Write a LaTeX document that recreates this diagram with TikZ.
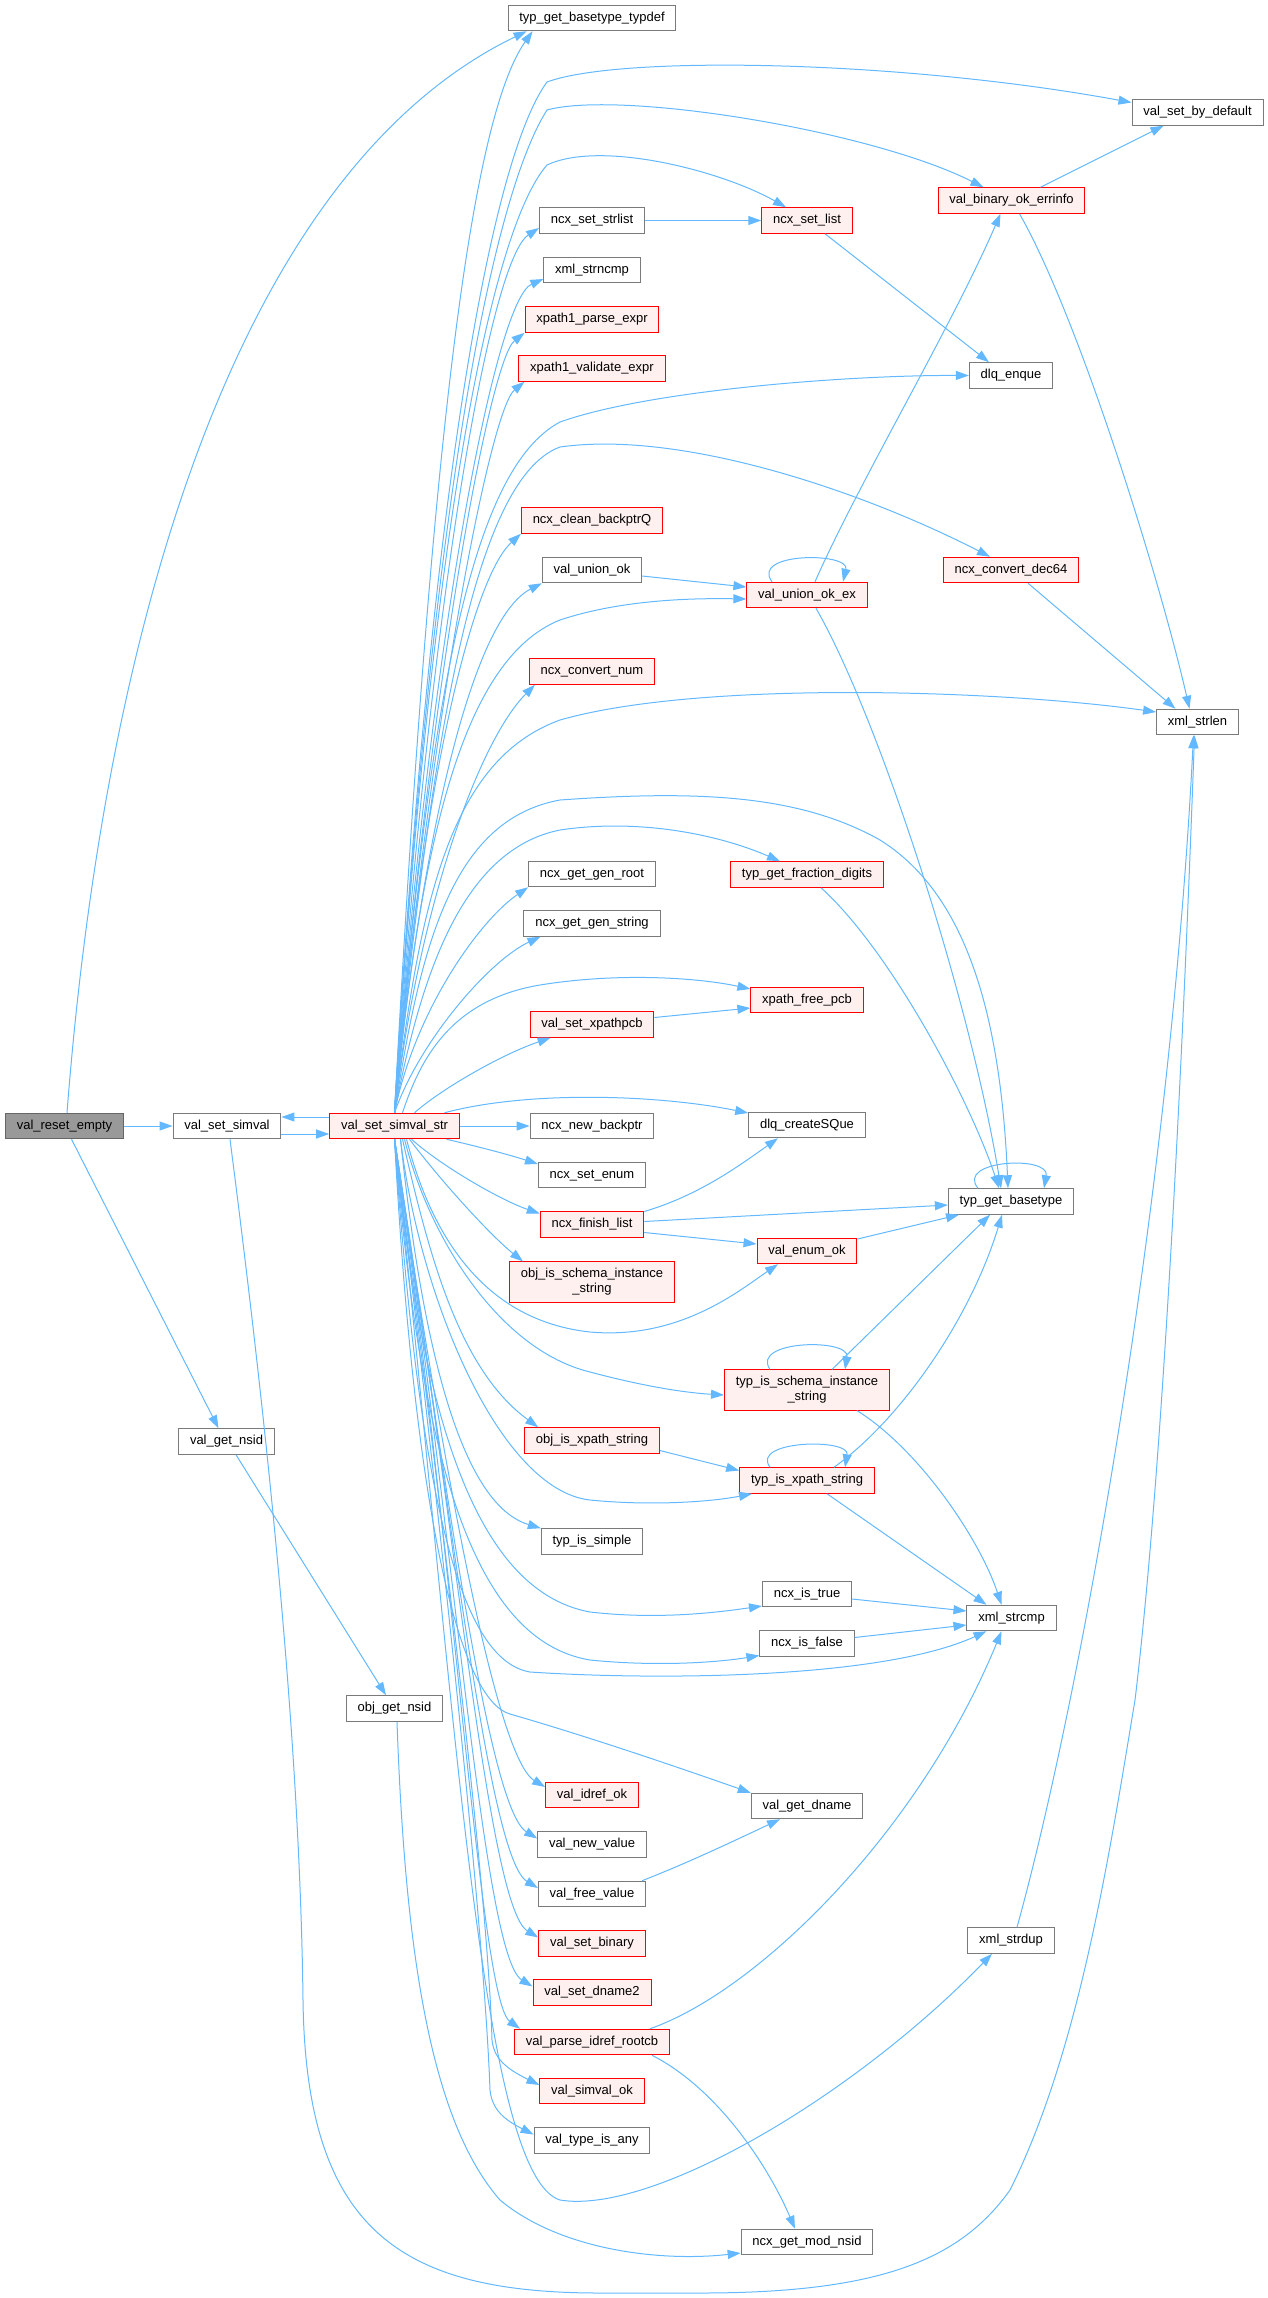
\documentclass[tikz,border=0pt]{standalone}
\usepackage{fontspec}
\setmainfont{Liberation Sans}
\usetikzlibrary{arrows.meta}
\definecolor{edgeblue}{HTML}{63B8FF}
\definecolor{boxgray}{HTML}{7A7A7A}
\definecolor{redfill}{HTML}{FFF0F0}
\definecolor{rootfill}{HTML}{999999}
\definecolor{rootdraw}{HTML}{666666}
\newcommand{\fnfont}{\fontsize{13pt}{15pt}\selectfont}

\begin{document}
\begin{tikzpicture}[
		% pixel grid of the call graph, y grows downward
		x=1pt, y=-1pt,
		fnbase/.style={draw=boxgray, fill=white, line width=1pt, inner xsep=11.3pt, inner ysep=6.5pt, font=\fnfont},
		fn/.style={fnbase, text height=9.5pt, text depth=3pt},
		fnred/.style={fn, draw=red, fill=redfill},
		fnroot/.style={fn, draw=rootdraw, fill=rootfill},
		fnredtwo/.style={fnbase, draw=red, fill=redfill, align=center},
		call/.style={draw=edgeblue, line width=1pt, -{Triangle[length=13pt,width=9pt]}}
		]
		\useasboundingbox (0,0) rectangle (1268,2298);

		% callers
		\node[fnroot] (vre) at (64.5,1126) {val\_reset\_empty};
		\node[fn] (vss) at (227,1126) {val\_set\_simval};
		\node[fn] (vgn) at (226.5,1441.5) {val\_get\_nsid};
		\node[fnred] (vsvs) at (394.5,1126) {val\_set\_simval\_str};
		\node[fn] (ogn) at (394.5,1708.5) {obj\_get\_nsid};

		% third column
		\node[fn] (tgbt) at (592,18) {typ\_get\_basetype\_typdef};
		\node[fn] (nss) at (592,220.5) {ncx\_set\_strlist};
		\node[fn] (xsncmp) at (592,270) {xml\_strncmp};
		\node[fnred] (xpe) at (592,319.5) {xpath1\_parse\_expr};
		\node[fnred] (xve) at (592,368.5) {xpath1\_validate\_expr};
		\node[fnred] (ncb) at (592,520.5) {ncx\_clean\_backptrQ};
		\node[fn] (vuo) at (592,570) {val\_union\_ok};
		\node[fnred] (ncn) at (592,671.5) {ncx\_convert\_num};
		\node[fn] (nggr) at (592,874) {ncx\_get\_gen\_root};
		\node[fn] (nggs) at (592,923.5) {ncx\_get\_gen\_string};
		\node[fnred] (vsxp) at (592,1024.5) {val\_set\_xpathpcb};
		\node[fn] (nnb) at (592,1126) {ncx\_new\_backptr};
		\node[fn] (nse) at (592,1175) {ncx\_set\_enum};
		\node[fnred] (nfl) at (592,1224.5) {ncx\_finish\_list};
		\node[fnredtwo] (oisis) at (592,1282) {obj\_is\_schema\_instance\\\_string};
		\node[fnred] (oixs) at (592,1440.5) {obj\_is\_xpath\_string};
		\node[fn] (tis) at (592,1541.5) {typ\_is\_simple};
		\node[fnred] (vio) at (592,1795) {val\_idref\_ok};
		\node[fn] (vnv) at (592,1844.5) {val\_new\_value};
		\node[fn] (vfv) at (592,1894) {val\_free\_value};
		\node[fnred] (vsb) at (592,1943.5) {val\_set\_binary};
		\node[fnred] (vsd) at (592,1992.5) {val\_set\_dname2};
		\node[fnred] (vpir) at (592,2042) {val\_parse\_idref\_rootcb};
		\node[fnred] (vso) at (592,2091) {val\_simval\_ok};
		\node[fn] (vtia) at (592,2140.5) {val\_type\_is\_any};

		% fourth column
		\node[fnred] (nsl) at (807,220.5) {ncx\_set\_list};
		\node[fnred] (vuoe) at (807,595) {val\_union\_ok\_ex};
		\node[fnred] (tgfd) at (807,874.5) {typ\_get\_fraction\_digits};
		\node[fnred] (xfp) at (807,1000) {xpath\_free\_pcb};
		\node[fn] (dcs) at (807,1125) {dlq\_createSQue};
		\node[fnred] (veo) at (807,1251) {val\_enum\_ok};
		\node[fnredtwo] (tiss) at (807,1390) {typ\_is\_schema\_instance\\\_string};
		\node[fnred] (tixs) at (807,1480.5) {typ\_is\_xpath\_string};
		\node[fn] (nit) at (807,1594) {ncx\_is\_true};
		\node[fn] (nif) at (807,1643.5) {ncx\_is\_false};
		\node[fn] (vgd) at (807,1806) {val\_get\_dname};
		\node[fn] (ngmn) at (807,2242) {ncx\_get\_mod\_nsid};

		% fifth and sixth column
		\node[fnred] (vboe) at (1011.5,200.5) {val\_binary\_ok\_errinfo};
		\node[fn] (dle) at (1011,375.5) {dlq\_enque};
		\node[fnred] (ncd) at (1011,570) {ncx\_convert\_dec64};
		\node[fn] (tgb) at (1011,1201.5) {typ\_get\_basetype};
		\node[fn] (xscmp) at (1011.5,1618) {xml\_strcmp};
		\node[fn] (xsd) at (1011,1940.5) {xml\_strdup};
		\node[fn] (vsbd) at (1197.5,112.5) {val\_set\_by\_default};
		\node[fn] (xsl) at (1197.5,722) {xml\_strlen};

		% calls of the root and of val_set_simval
		\draw[call] (vre) -- (vss);
		\draw[call] ([xshift=2.5pt]vre.north) .. controls (105,620) and (240,170) .. ([xshift=19pt]tgbt.south west);
		\draw[call] ([xshift=7pt]vre.south) -- ([xshift=-8pt]vgn.north);
		\draw[call] ([yshift=-8pt]vss.east) -- ([yshift=-8pt]vsvs.west);
		\draw[call] ([yshift=9pt]vsvs.west) -- ([yshift=9pt]vss.east);
		\draw[call] ([xshift=3pt]vss.south) .. controls (270,1450) and (300,1750) .. (303,2000) .. controls (306,2230) and (400,2293) .. (600,2293) -- (700,2293) .. controls (880,2293) and (960,2260) .. (1010,2190) .. controls (1080,2050) and (1110,1850) .. (1135,1700) .. controls (1165,1450) and (1185,1000) .. ([xshift=-3pt]xsl.south);
		\draw[call] ([xshift=9.5pt]vgn.south) -- ([xshift=-8.5pt]ogn.north);
		\draw[call] ([xshift=2.5pt]ogn.south) .. controls (405,1950) and (430,2120) .. (500,2200) .. controls (560,2250) and (660,2262) .. ([yshift=-11pt]ngmn.west);

		% val_set_simval_str, upward
		\draw[call] (vsvs.north) .. controls (430,450) and (470,120) .. ([xshift=25pt]tgbt.south west);
		\draw[call] (vsvs.north) .. controls (430,500) and (490,160) .. (547,82) .. controls (620,55) and (900,60) .. ([yshift=10pt]vsbd.west);
		\draw[call] (vsvs.north) .. controls (430,520) and (490,200) .. (547,110) .. controls (620,90) and (870,130) .. ([xshift=-28pt]vboe.north);
		\draw[call] (vsvs.north) .. controls (430,540) and (490,230) .. (547,165) .. controls (600,140) and (720,170) .. ([xshift=-21pt]nsl.north);
		\draw[call] (vsvs.north) .. controls (430,600) and (490,260) .. ([yshift=-7.5pt]nss.west);
		\draw[call] (vsvs.north) .. controls (430,640) and (495,300) .. ([yshift=-9pt]xsncmp.west);
		\draw[call] (vsvs.north) .. controls (430,680) and (490,360) .. (xpe.south west);
		\draw[call] (vsvs.north) .. controls (430,720) and (490,410) .. ([xshift=6pt]xve.south west);
		\draw[call] (vsvs.north) .. controls (430,700) and (470,470) .. (560,422) .. controls (650,390) and (850,375) .. (dle.west);
		\draw[call] (vsvs.north) .. controls (430,760) and (470,480) .. (560,447) .. controls (680,430) and (860,490) .. ([xshift=-21pt]ncd.north);
		\draw[call] (vsvs.north) .. controls (420,800) and (470,580) .. (ncb.south west);
		\draw[call] (vsvs.north) .. controls (420,850) and (470,620) .. (vuo.south west);
		\draw[call] (vsvs.north) .. controls (420,850) and (460,660) .. (560,620) .. controls (620,600) and (690,598) .. ([yshift=-4pt]vuoe.west);
		\draw[call] (vsvs.north) .. controls (420,900) and (480,740) .. ([xshift=6pt]ncn.south west);
		\draw[call] (vsvs.north) .. controls (420,900) and (450,760) .. (560,720) .. controls (700,680) and (1000,690) .. ([yshift=10pt]xsl.west);
		\draw[call] (vsvs.north) .. controls (420,950) and (450,820) .. (560,800) .. controls (700,790) and (800,795) .. (880,840) .. controls (960,890) and (1000,1000) .. ([xshift=-3pt]tgb.north);
		\draw[call] (vsvs.north) .. controls (420,980) and (460,850) .. (560,830) .. controls (640,818) and (720,835) .. ([xshift=-27pt]tgfd.north);
		\draw[call] (vsvs.north) .. controls (415,1010) and (480,920) .. (nggr.south west);
		\draw[call] (vsvs.north) .. controls (420,1040) and (490,960) .. ([xshift=17pt]nggs.south west);
		\draw[call] ([xshift=20pt]vsvs.north) .. controls (440,1090) and (500,1055) .. ([xshift=21pt]vsxp.south west);
		\draw[call] ([xshift=8pt]vsvs.north) .. controls (420,1060) and (450,1000) .. (540,985) .. controls (620,972) and (700,978) .. ([yshift=11pt]xfp.west);
		\draw[call] ([xshift=50pt]vsvs.north) .. controls (530,1090) and (660,1095) .. ([yshift=12pt]dcs.west);

		% val_set_simval_str, sideways and downward
		\draw[call] (vsvs) -- (nnb);
		\draw[call] ([xshift=52pt]vsvs.south) .. controls (480,1147) and (510,1155) .. ([yshift=11pt]nse.west);
		\draw[call] ([xshift=17pt]vsvs.south) .. controls (440,1165) and (500,1200) .. ([yshift=11pt]nfl.west);
		\draw[call] ([xshift=15pt]vsvs.south) .. controls (440,1180) and (490,1235) .. ([xshift=14pt]oisis.north west);
		\draw[call] ([xshift=12pt]vsvs.south) .. controls (430,1230) and (480,1320) .. (590,1332) .. controls (680,1340) and (740,1290) .. ([xshift=-29pt]veo.south);
		\draw[call] ([xshift=10pt]vsvs.south) .. controls (430,1240) and (500,1350) .. (590,1372) .. controls (650,1388) and (690,1393) .. ([yshift=-5pt]tiss.west);
		\draw[call] ([xshift=8pt]vsvs.south) .. controls (430,1260) and (460,1370) .. ([xshift=14pt]oixs.north west);
		\draw[call] ([xshift=6pt]vsvs.south) .. controls (420,1300) and (500,1490) .. (590,1500) .. controls (650,1506) and (710,1502) .. ([xshift=-55pt]tixs.south);
		\draw[call] ([xshift=6pt]vsvs.south) .. controls (430,1420) and (480,1510) .. (tis.north west);
		\draw[call] (vsvs.south) .. controls (420,1400) and (470,1590) .. (590,1612) .. controls (660,1620) and (720,1612) .. ([yshift=-12pt]nit.west);
		\draw[call] (vsvs.south) .. controls (420,1450) and (470,1640) .. (590,1660) .. controls (660,1667) and (720,1662) .. ([yshift=-12pt]nif.west);
		\draw[call] (vsvs.south) .. controls (420,1500) and (460,1660) .. (530,1672) .. controls (650,1680) and (880,1680) .. ([xshift=-25pt]xscmp.south);
		\draw[call] (vsvs.south) .. controls (415,1520) and (460,1700) .. (510,1714) .. controls (600,1740) and (700,1775) .. (vgd.north west);
		\draw[call] (vsvs.south) .. controls (440,1450) and (495,1757) .. ([yshift=8pt]vio.west);
		\draw[call] (vsvs.south) .. controls (445,1480) and (488,1808) .. ([yshift=6pt]vnv.west);
		\draw[call] (vsvs.south) .. controls (450,1500) and (488,1858) .. ([yshift=6pt]vfv.west);
		\draw[call] (vsvs.south) .. controls (455,1520) and (488,1907) .. ([yshift=6pt]vsb.west);
		\draw[call] (vsvs.south) .. controls (455,1540) and (483,1956) .. ([yshift=6pt]vsd.west);
		\draw[call] (vsvs.south) .. controls (455,1560) and (480,2000) .. ([xshift=6pt]vpir.north west);
		\draw[call] (vsvs.south) .. controls (450,1580) and (488,1900) .. (492,2040) .. controls (494,2058) and (505,2068) .. ([yshift=6pt]vso.west);
		\draw[call] (vsvs.south) .. controls (450,1600) and (485,1950) .. (490,2090) .. controls (492,2110) and (505,2120) .. ([yshift=6pt]vtia.west);
		\draw[call] (vsvs.south) .. controls (455,1700) and (480,2175) .. (560,2200) .. controls (650,2215) and (850,2100) .. ([xshift=-19pt]xsd.south);

		% calls further right
		\draw[call] (nss) -- (nsl);
		\draw[call] ([xshift=18pt]nsl.south) -- ([xshift=-22pt]dle.north);
		\draw[call] ([xshift=29pt]vboe.north) -- ([xshift=-34pt]vsbd.south);
		\draw[call] ([xshift=8pt]vboe.south) .. controls (1080,320) and (1160,580) .. ([xshift=-8pt]xsl.north);
		\draw[call] ([yshift=-6pt]vuo.east) -- ([yshift=8pt]vuoe.west);
		\draw[call] ([xshift=-35pt]vuoe.north) .. controls (750,552) and (850,552) .. ([xshift=36pt]vuoe.north);
		\draw[call] ([xshift=8pt]vuoe.north) .. controls (860,480) and (950,330) .. ([xshift=-11pt]vboe.south);
		\draw[call] ([xshift=9pt]vuoe.south) .. controls (880,720) and (970,1000) .. ([xshift=-10pt]tgb.north);
		\draw[call] ([xshift=17pt]ncd.south) -- ([xshift=-22pt]xsl.north);
		\draw[call] ([xshift=14pt]tgfd.south) .. controls (890,950) and (970,1100) .. ([xshift=-12pt]tgb.north);
		\draw[call] ([xshift=-33pt]tgb.north) .. controls (955,1160) and (1050,1155) .. ([xshift=33pt]tgb.north);
		\draw[call] ([yshift=7pt]vsxp.east) -- ([yshift=-8pt]xfp.west);
		\draw[call] ([yshift=13pt]nfl.east) .. controls (700,1195) and (740,1165) .. ([xshift=-29pt]dcs.south);
		\draw[call] ([yshift=3pt]nfl.east) -- ([yshift=-3.5pt]tgb.west);
		\draw[call] ([yshift=-8pt]nfl.east) -- ([yshift=7pt]veo.west);
		\draw[call] ([yshift=12pt]veo.east) -- ([xshift=-52pt]tgb.south);
		\draw[call] ([xshift=-37pt]tiss.north) .. controls (750,1340) and (850,1338) .. ([xshift=38pt]tiss.north);
		\draw[call] ([xshift=25pt]tiss.north) -- ([xshift=-21pt]tgb.south);
		\draw[call] ([xshift=50pt]tiss.south) .. controls (920,1450) and (980,1540) .. ([xshift=-10pt]xscmp.north);
		\draw[call] ([yshift=-10pt]oixs.east) -- ([yshift=10pt]tixs.west);
		\draw[call] ([xshift=-37pt]tixs.north) .. controls (750,1440) and (850,1438) .. ([xshift=38pt]tixs.north);
		\draw[call] ([xshift=27pt]tixs.north) .. controls (900,1420) and (970,1320) .. ([xshift=-9pt]tgb.south);
		\draw[call] ([xshift=20pt]tixs.south) -- ([xshift=-25pt]xscmp.north);
		\draw[call] ([yshift=-5pt]nit.east) -- ([yshift=7pt]xscmp.west);
		\draw[call] ([yshift=6pt]nif.east) -- ([yshift=-7pt]xscmp.west);
		\draw[call] ([xshift=50pt]vfv.north) .. controls (690,1862) and (740,1838) .. ([xshift=-27pt]vgd.south);
		\draw[call] ([xshift=58pt]vpir.north) .. controls (760,1990) and (920,1830) .. ([xshift=-10pt]xscmp.south);
		\draw[call] ([xshift=60pt]vpir.south) .. controls (720,2090) and (770,2170) .. ([xshift=-12pt]ngmn.north);
		\draw[call] ([xshift=6pt]xsd.north) .. controls (1080,1700) and (1170,1200) .. ([xshift=-4pt]xsl.south);
	\end{tikzpicture}
\end{document}
